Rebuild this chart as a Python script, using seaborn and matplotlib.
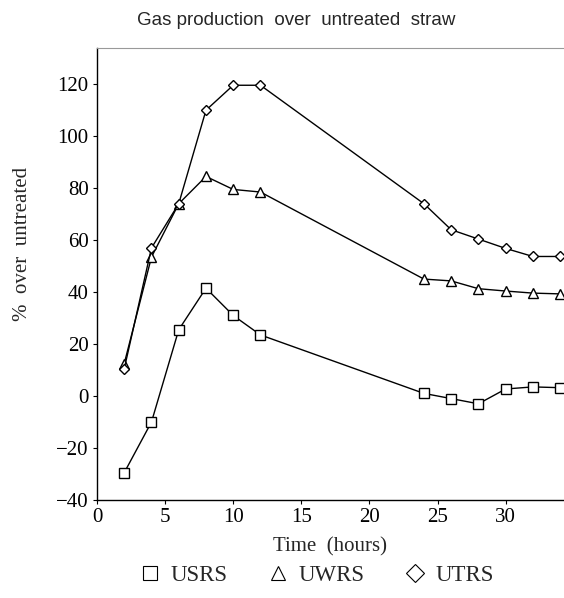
import matplotlib
matplotlib.use("Agg")
import matplotlib.pyplot as plt
from matplotlib.lines import Line2D
import pandas as pd
import seaborn as sns

# values
time_usrs = [2, 4, 6, 8, 10, 12, 24, 26, 28, 30, 32, 34]
usrs = [-29.5, -10, 25.5, 41.5, 31, 23.5, 1, -1, -3, 2.7, 3.5, 3.2]

time_uwrs = [2, 4, 6, 8, 10, 12, 24, 26, 28, 30, 32, 34]
uwrs = [12.5, 53.5, 74, 84.5, 79.5, 78.5, 45, 44.3, 41.3, 40.4, 39.6, 39.3]

time_utrs = [2, 4, 6, 8, 10, 12, 24, 26, 28, 30, 32, 34]
utrs = [10.5, 57, 74, 110, 119.6, 119.6, 74, 64, 60.4, 56.8, 53.7, 53.7]

series_names = ["USRS", "UWRS", "UTRS"]
marker_shapes = {"USRS": "s", "UWRS": "^", "UTRS": "D"}
y_ticks = [-40, -20, 0, 20, 40, 60, 80, 100, 120]
x_ticks = [0, 5, 10, 15, 20, 25, 30]

df = pd.concat([
    pd.DataFrame({"time": time_usrs, "pct": usrs, "series": "USRS"}),
    pd.DataFrame({"time": time_uwrs, "pct": uwrs, "series": "UWRS"}),
    pd.DataFrame({"time": time_utrs, "pct": utrs, "series": "UTRS"}),
], ignore_index=True)

sns.set_style("ticks")
plt.rcParams["font.family"] = ["Liberation Serif", "DejaVu Serif"]

fig = plt.figure(figsize=(5.64, 5.98), dpi=100)
ax = fig.add_axes([0.172, 0.164, 0.826, 0.756])

sns.lineplot(
    data=df, x="time", y="pct", hue="series", style="series",
    palette={s: "black" for s in series_names},
    markers=marker_shapes, dashes=False, linewidth=1.0,
    markersize=7, markerfacecolor="white", markeredgecolor="black",
    markeredgewidth=1.0, legend=False, ax=ax,
)
# diamond a bit smaller than the others
for line in ax.lines:
    if line.get_marker() == "D":
        line.set_markersize(5.5)

ax.set_xlim(0, 34.2)
ax.set_ylim(-40, 134)
ax.set_xticks(x_ticks)
ax.set_yticks(y_ticks)
ax.set_yticklabels([f"\u2212{abs(v)}" if v < 0 else str(v) for v in y_ticks])
ax.tick_params(direction="out", length=3, labelsize=15, colors="black", pad=3)
ax.spines["right"].set_visible(False)
ax.spines["top"].set_color("0.6")
ax.spines["top"].set_linewidth(0.8)
for s in ["left", "bottom"]:
    ax.spines[s].set_color("black")
    ax.spines[s].set_linewidth(1.0)

ax.set_xlabel("Time  (hours)", fontsize=15, labelpad=7)
ax.set_ylabel("%  over  untreated", fontsize=15)
ax.yaxis.set_label_coords(-0.14, 0.566)

fig.text(0.525, 0.966, "Gas production  over  untreated  straw",
         ha="center", va="center", fontsize=13.5,
         family=["Liberation Sans", "DejaVu Sans"])

handles = [
    Line2D([], [], linestyle="none", marker=marker_shapes[s],
           markersize=10 if s != "UTRS" else 9, markerfacecolor="white",
           markeredgecolor="black", markeredgewidth=0.8, label=s)
    for s in series_names
]
fig.legend(handles=handles, loc="center", bbox_to_anchor=(0.56, 0.038),
           ncol=3, frameon=False, fontsize=16.5, handletextpad=0.4,
           columnspacing=1.7, handlelength=1.0)

fig.savefig("out.png", dpi=100)
